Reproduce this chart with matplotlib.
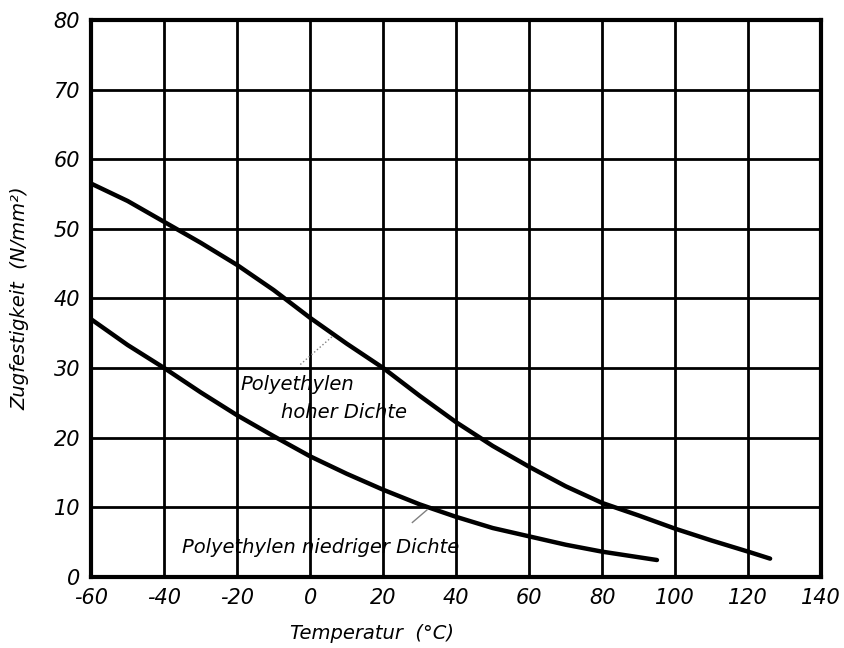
import matplotlib.pyplot as plt
import numpy as np

plt.rcParams.update({
    "font.family": ['Liberation Sans Narrow', 'DejaVu Sans'],
    "font.style": 'italic',
    "axes.linewidth": 3,
})

# Polyethylen hoher Dichte
temp_hd = [-60, -50, -40, -30, -20, -10, 0, 10, 20, 30, 40, 50, 60, 70, 80, 90, 100, 110, 120, 126]
zug_hd = [56.5, 54.0, 51.0, 48.0, 44.8, 41.2, 37.2, 33.5, 30.0, 26.0, 22.2, 18.8, 15.8, 13.0, 10.6, 8.8, 6.9, 5.2, 3.6, 2.6]

# Polyethylen niedriger Dichte
temp_ld = [-60, -50, -40, -30, -20, -10, 0, 10, 20, 30, 40, 50, 60, 70, 80, 90, 95]
zug_ld = [37.0, 33.3, 30.0, 26.5, 23.2, 20.2, 17.3, 14.8, 12.5, 10.4, 8.6, 7.0, 5.8, 4.6, 3.6, 2.8, 2.4]

x_ticks = [-60, -40, -20, 0, 20, 40, 60, 80, 100, 120, 140]
y_ticks = [0, 10, 20, 30, 40, 50, 60, 70, 80]

fig = plt.figure(figsize=(8.44, 6.48), dpi=100)
ax = fig.add_axes([0.108, 0.110, 0.865, 0.859])

ax.plot(temp_hd, zug_hd, color='black', lw=3.2, solid_capstyle='round')
ax.plot(temp_ld, zug_ld, color='black', lw=3.2, solid_capstyle='round')

ax.set_xlim(-60, 140)
ax.set_ylim(0, 80)
ax.set_xticks(x_ticks)
ax.set_yticks(y_ticks)
ax.set_xticklabels([str(v) for v in x_ticks])
ax.set_yticklabels([str(v) for v in y_ticks])
ax.tick_params(length=0, labelsize=15, pad=8)
ax.grid(True, color='black', lw=2)

ax.text(-19, 27.6, 'Polyethylen', fontsize=14, va='center')
ax.text(-8, 23.6, 'hoher Dichte', fontsize=14, va='center')
ax.plot([-2.7, 6], [30.5, 34.5], color='gray', lw=1, ls=':')
ax.text(-35, 4.2, 'Polyethylen niedriger Dichte', fontsize=14, va='center')
ax.plot([28, 32], [7.8, 9.6], color='gray', lw=1)

ax.set_xlabel('Temperatur  (°C)', fontsize=14)
ax.set_ylabel('Zugfestigkeit  (N/mm²)', fontsize=14)
ax.xaxis.set_label_coords(0.385, -0.085)
ax.yaxis.set_label_coords(-0.085, 0.5)

plt.savefig('out.png', dpi=100)
